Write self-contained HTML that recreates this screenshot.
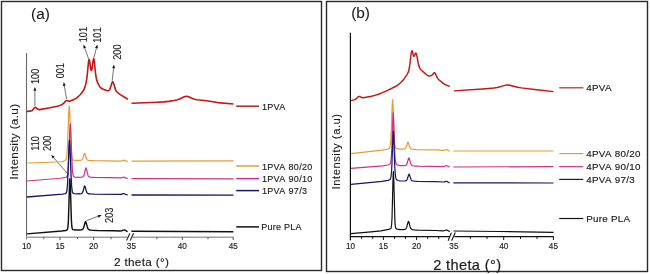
<!DOCTYPE html>
<html><head><meta charset="utf-8"><style>
html,body{margin:0;padding:0;background:#fff;}
svg{display:block;font-family:"Liberation Sans",sans-serif;will-change:transform;}
</style></head><body>
<svg width="650" height="274" viewBox="0 0 650 274">
<rect width="650" height="274" fill="#fff"/>
<rect x="1.5" y="1.5" width="320" height="269" fill="none" stroke="#2a2a2a" stroke-width="1.4"/>
<rect x="326.5" y="1.5" width="321" height="270" fill="none" stroke="#2a2a2a" stroke-width="1.4"/>
<line x1="26.5" y1="53" x2="26.5" y2="239.5" stroke="#6a6a6a" stroke-width="1.1"/>
<line x1="26" y1="237.2" x2="127.6" y2="237.2" stroke="#a0a0a0" stroke-width="1.6"/>
<line x1="131.8" y1="237.2" x2="233.6" y2="237.2" stroke="#a0a0a0" stroke-width="1.6"/>
<line x1="60" y1="237" x2="60" y2="240" stroke="#555" stroke-width="1.0"/><line x1="93.6" y1="237" x2="93.6" y2="240" stroke="#555" stroke-width="1.0"/><line x1="182.3" y1="237" x2="182.3" y2="240" stroke="#555" stroke-width="1.0"/><line x1="233.2" y1="237" x2="233.2" y2="240" stroke="#555" stroke-width="1.0"/>
<line x1="43.8" y1="237" x2="43.8" y2="239.2" stroke="#555" stroke-width="1.0"/><line x1="77.6" y1="237" x2="77.6" y2="239.2" stroke="#555" stroke-width="1.0"/><line x1="111" y1="237" x2="111" y2="239.2" stroke="#555" stroke-width="1.0"/><line x1="156.9" y1="237" x2="156.9" y2="239.2" stroke="#555" stroke-width="1.0"/><line x1="208.0" y1="237" x2="208.0" y2="239.2" stroke="#555" stroke-width="1.0"/>
<line x1="126.6" y1="240.4" x2="129.9" y2="233.2" stroke="#222" stroke-width="1.1"/>
<line x1="130.2" y1="240.4" x2="133.6" y2="233.2" stroke="#222" stroke-width="1.1"/>
<text transform="translate(26.5,249) scale(0.93,1)" font-size="8.8" text-anchor="middle" fill="#1a1a1a" stroke="#1a1a1a" stroke-width="0.15">10</text>
<text transform="translate(60,249) scale(0.93,1)" font-size="8.8" text-anchor="middle" fill="#1a1a1a" stroke="#1a1a1a" stroke-width="0.15">15</text>
<text transform="translate(93.6,249) scale(0.93,1)" font-size="8.8" text-anchor="middle" fill="#1a1a1a" stroke="#1a1a1a" stroke-width="0.15">20</text>
<text transform="translate(131.4,249) scale(0.93,1)" font-size="8.8" text-anchor="middle" fill="#1a1a1a" stroke="#1a1a1a" stroke-width="0.15">35</text>
<text transform="translate(182.3,249) scale(0.93,1)" font-size="8.8" text-anchor="middle" fill="#1a1a1a" stroke="#1a1a1a" stroke-width="0.15">40</text>
<text transform="translate(233.2,249) scale(0.93,1)" font-size="8.8" text-anchor="middle" fill="#1a1a1a" stroke="#1a1a1a" stroke-width="0.15">45</text>
<text x="141.6" y="266.0" font-size="11.8" text-anchor="middle" fill="#1a1a1a" stroke="#1a1a1a" stroke-width="0.15" letter-spacing="0.3">2 theta (°)</text>
<text transform="translate(17.7,141.6) rotate(-90) scale(1,1.0)" font-size="11.8" text-anchor="middle" fill="#1a1a1a" stroke="#1a1a1a" stroke-width="0.1" letter-spacing="0.3">Intensity (a.u)</text>
<text x="31" y="19.2" font-size="15.4" text-anchor="start" fill="#1a1a1a" stroke="#1a1a1a" stroke-width="0.08" >(a)</text>
<text transform="translate(39.0,76.4) rotate(-90) scale(1,1.14)" font-size="9.2" text-anchor="middle" fill="#1a1a1a" stroke="#1a1a1a" stroke-width="0.1" >100</text>
<line x1="34.9" y1="106.3" x2="34.90" y2="90.80" stroke="#444" stroke-width="0.75"/><path d="M34.90,87.00 L36.35,90.80 L33.45,90.80Z" fill="#111"/>
<text transform="translate(64.4,70.7) rotate(-90) scale(1,1.14)" font-size="9.2" text-anchor="middle" fill="#1a1a1a" stroke="#1a1a1a" stroke-width="0.1" >001</text>
<line x1="66.6" y1="99" x2="64.34" y2="85.75" stroke="#444" stroke-width="0.75"/><path d="M63.70,82.00 L65.77,85.50 L62.91,85.99Z" fill="#111"/>
<text transform="translate(87.1,34.6) rotate(-90) scale(1,1.14)" font-size="9.2" text-anchor="middle" fill="#1a1a1a" stroke="#1a1a1a" stroke-width="0.1" >101</text>
<line x1="88.6" y1="58.8" x2="84.78" y2="48.08" stroke="#444" stroke-width="0.75"/><path d="M83.50,44.50 L86.14,47.59 L83.41,48.57Z" fill="#111"/>
<text transform="translate(101.4,35.1) rotate(-90) scale(1,1.14)" font-size="9.2" text-anchor="middle" fill="#1a1a1a" stroke="#1a1a1a" stroke-width="0.1" >101</text>
<line x1="93.6" y1="58.8" x2="96.42" y2="48.17" stroke="#444" stroke-width="0.75"/><path d="M97.40,44.50 L97.83,48.54 L95.02,47.80Z" fill="#111"/>
<text transform="translate(121.0,52.1) rotate(-90) scale(1,1.14)" font-size="9.2" text-anchor="middle" fill="#1a1a1a" stroke="#1a1a1a" stroke-width="0.1" >200</text>
<line x1="112.2" y1="80.7" x2="113.58" y2="68.28" stroke="#444" stroke-width="0.75"/><path d="M114.00,64.50 L115.02,68.44 L112.14,68.12Z" fill="#111"/>
<text transform="translate(38.9,143.4) rotate(-90) scale(1,1.14)" font-size="9.2" text-anchor="middle" fill="#1a1a1a" stroke="#1a1a1a" stroke-width="0.1" >110</text>
<text transform="translate(51.2,143.3) rotate(-90) scale(1,1.14)" font-size="9.2" text-anchor="middle" fill="#1a1a1a" stroke="#1a1a1a" stroke-width="0.1" >200</text>
<line x1="69.2" y1="175.5" x2="53.69" y2="157.67" stroke="#444" stroke-width="0.75"/><path d="M51.20,154.80 L54.79,156.72 L52.60,158.62Z" fill="#111"/>
<text transform="translate(112.7,215.3) rotate(-90) scale(1,1.14)" font-size="9.2" text-anchor="middle" fill="#1a1a1a" stroke="#1a1a1a" stroke-width="0.1" >203</text>
<line x1="86.6" y1="220.6" x2="98.14" y2="216.32" stroke="#444" stroke-width="0.75"/><path d="M101.70,215.00 L98.64,217.68 L97.63,214.96Z" fill="#111"/>
<line x1="236.2" y1="106.2" x2="259" y2="106.2" stroke="#b02222" stroke-width="1.5"/>
<text x="261.9" y="109.7" font-size="9.0" text-anchor="start" fill="#1a1a1a" stroke="#1a1a1a" stroke-width="0.14" letter-spacing="0.3" word-spacing="0.8">1PVA</text>
<line x1="236.2" y1="166" x2="259" y2="166" stroke="#e99a35" stroke-width="1.5"/>
<text x="261.9" y="169.5" font-size="9.0" text-anchor="start" fill="#1a1a1a" stroke="#1a1a1a" stroke-width="0.14" letter-spacing="0.3" word-spacing="0.8">1PVA 80/20</text>
<line x1="236.2" y1="178.6" x2="259" y2="178.6" stroke="#d02e88" stroke-width="1.5"/>
<text x="261.9" y="182.1" font-size="9.0" text-anchor="start" fill="#1a1a1a" stroke="#1a1a1a" stroke-width="0.14" letter-spacing="0.3" word-spacing="0.8">1PVA 90/10</text>
<line x1="236.2" y1="190.6" x2="259" y2="190.6" stroke="#16166a" stroke-width="1.5"/>
<text x="261.9" y="194.1" font-size="9.0" text-anchor="start" fill="#1a1a1a" stroke="#1a1a1a" stroke-width="0.14" letter-spacing="0.3" word-spacing="0.8">1PVA 97/3</text>
<line x1="236.2" y1="226.9" x2="259" y2="226.9" stroke="#111111" stroke-width="1.5"/>
<text x="261.2" y="230.4" font-size="9.0" text-anchor="start" fill="#1a1a1a" stroke="#1a1a1a" stroke-width="0.14" letter-spacing="0.3" word-spacing="-0.3">Pure PLA</text>
<path d="M26.80,233.89 L61.80,231.09 L65.60,230.55 L66.60,230.23 L67.20,229.79 L67.60,228.92 L68.00,226.54 L68.40,220.85 L69.60,182.28 L69.80,178.98 L70.00,178.96 L70.40,188.05 L71.40,220.59 L71.80,226.21 L72.20,228.53 L72.60,229.33 L73.00,229.62 L73.80,229.83 L77.00,230.05 L80.80,229.91 L81.80,229.72 L82.40,229.46 L83.00,228.89 L83.60,227.77 L85.20,222.13 L85.60,221.58 L86.00,222.15 L87.20,226.68 L87.80,228.33 L88.60,229.46 L89.80,230.02 L92.40,230.36 L97.20,230.59 L114.00,230.68 L120.40,230.91 L121.60,230.80 L123.40,230.12 L124.20,229.99 L125.00,230.23 L126.60,231.25 L127.60,231.67 M131.40,231.20 L233.30,231.80" fill="none" stroke="#111111" stroke-width="1.45" stroke-linejoin="round" stroke-linecap="butt"/>
<path d="M27.50,162.99 L49.72,162.27 L59.73,161.76 L61.73,161.51 L63.74,161.05 L65.14,160.54 L65.74,160.07 L66.14,159.35 L66.54,157.79 L67.14,152.10 L67.74,139.83 L68.74,111.25 L69.14,106.06 L69.34,106.49 L69.74,113.10 L70.74,141.79 L71.14,150.06 L71.74,156.78 L72.14,158.67 L72.75,159.75 L73.15,160.01 L73.95,160.24 L76.55,160.46 L79.95,160.38 L81.55,160.02 L82.15,159.55 L82.76,158.55 L84.16,153.97 L84.56,153.30 L84.76,153.39 L84.96,153.75 L86.16,157.84 L86.76,159.19 L87.56,160.02 L88.56,160.35 L90.56,160.56 L93.77,160.68 L120.19,161.03 L121.39,160.92 L123.20,160.28 L123.80,160.21 L124.40,160.34 L126.20,161.14 L127.80,161.38 M131.50,161.20 L233.50,160.90" fill="none" stroke="#e99a35" stroke-width="1.2" stroke-linejoin="round" stroke-linecap="butt"/>
<path d="M26.80,180.99 L60.40,178.23 L65.40,177.43 L66.40,177.08 L67.00,176.51 L67.40,175.56 L67.80,173.52 L68.40,166.45 L69.80,129.80 L70.20,123.99 L70.40,123.99 L70.80,129.78 L71.80,157.88 L72.40,169.39 L73.00,174.59 L73.40,175.97 L73.80,176.58 L74.20,176.86 L75.00,177.11 L78.00,177.35 L81.40,177.19 L82.40,176.98 L83.00,176.68 L83.60,176.02 L84.20,174.64 L85.60,168.60 L85.80,168.06 L86.00,167.87 L86.20,168.06 L86.40,168.60 L87.40,173.17 L88.00,175.21 L88.40,176.02 L88.80,176.52 L89.40,176.91 L90.00,177.10 L91.60,177.32 L94.40,177.45 L120.20,177.95 L121.40,177.85 L123.20,177.23 L123.80,177.16 L124.40,177.30 L126.20,178.12 L127.80,178.38 M131.50,178.60 L233.50,178.90" fill="none" stroke="#d02e88" stroke-width="1.2" stroke-linejoin="round" stroke-linecap="butt"/>
<path d="M26.80,196.99 L62.60,194.11 L65.20,193.67 L65.80,193.38 L66.20,192.95 L66.60,192.01 L67.00,189.97 L67.60,182.91 L69.00,146.28 L69.40,140.48 L69.60,140.47 L70.00,146.26 L71.00,174.37 L71.60,185.88 L72.20,191.09 L72.60,192.47 L73.00,193.08 L73.40,193.37 L74.20,193.62 L77.00,193.87 L80.20,193.77 L81.20,193.58 L81.80,193.30 L82.40,192.66 L82.80,191.89 L83.40,190.04 L84.20,186.86 L84.60,185.97 L84.80,185.97 L85.20,186.87 L86.20,190.77 L86.80,192.35 L87.60,193.34 L88.60,193.74 L90.60,193.97 L94.00,194.09 L120.40,194.35 L121.40,194.26 L123.20,193.67 L123.80,193.61 L124.40,193.76 L126.20,194.60 L127.80,194.88 M131.50,195.00 L233.50,195.20" fill="none" stroke="#16166a" stroke-width="1.3" stroke-linejoin="round" stroke-linecap="butt"/>
<path d="M26.80,111.40 L30.20,111.17 L31.60,110.78 L32.60,110.08 L34.40,107.95 L35.20,107.46 L35.60,107.49 L36.00,107.68 L38.00,109.33 L38.80,109.60 L39.60,109.62 L50.00,107.83 L57.40,106.20 L60.60,105.16 L62.60,104.21 L63.80,103.22 L65.60,101.00 L66.20,100.52 L67.00,100.47 L68.80,101.20 L70.20,101.08 L74.00,99.55 L76.00,98.40 L77.60,97.28 L80.40,94.52 L82.40,92.09 L84.00,89.50 L85.00,86.87 L86.00,83.11 L86.80,78.63 L87.40,73.54 L88.40,62.90 L88.80,60.19 L89.00,59.57 L89.20,59.48 L89.60,60.80 L90.80,69.04 L91.20,70.39 L91.40,70.53 L91.60,70.32 L92.00,68.83 L93.20,60.17 L93.60,58.70 L93.80,58.70 L94.20,60.29 L95.60,73.76 L96.40,78.78 L97.00,80.91 L97.80,82.92 L99.00,85.44 L100.00,87.00 L101.40,88.30 L103.20,89.29 L106.60,90.54 L107.80,90.73 L108.60,90.61 L109.20,90.20 L109.80,89.33 L110.40,87.88 L112.00,82.71 L112.40,82.02 L112.80,81.88 L113.20,82.32 L113.60,83.27 L115.40,89.34 L116.00,90.67 L116.60,91.56 L117.60,92.52 L120.40,94.60 L127.80,99.30 M131.50,103.30 L157.10,102.25 L163.90,101.85 L168.70,101.41 L173.90,100.57 L177.50,99.74 L179.70,98.97 L184.30,96.78 L185.50,96.44 L186.50,96.34 L187.50,96.42 L188.50,96.67 L193.70,98.96 L196.70,99.74 L206.70,100.79 L217.70,102.58 L233.50,104.00" fill="none" stroke="#c51515" stroke-width="1.6" stroke-linejoin="round" stroke-linecap="butt"/>
<line x1="350.4" y1="32.7" x2="350.4" y2="240.3" stroke="#111" stroke-width="1.2"/>
<line x1="350" y1="236.6" x2="449.6" y2="236.6" stroke="#111" stroke-width="1.2"/>
<line x1="454.4" y1="236.6" x2="553.8" y2="236.6" stroke="#111" stroke-width="1.2"/>
<line x1="383.4" y1="236.6" x2="383.4" y2="240" stroke="#111" stroke-width="1.0"/><line x1="416.6" y1="236.6" x2="416.6" y2="240" stroke="#111" stroke-width="1.0"/><line x1="503.7" y1="236.6" x2="503.7" y2="240" stroke="#111" stroke-width="1.0"/><line x1="553.4" y1="236.6" x2="553.4" y2="240" stroke="#111" stroke-width="1.0"/>
<line x1="361.6" y1="236.6" x2="361.6" y2="238.9" stroke="#111" stroke-width="1.0"/><line x1="372.7" y1="236.6" x2="372.7" y2="238.9" stroke="#111" stroke-width="1.0"/><line x1="394.5" y1="236.6" x2="394.5" y2="238.9" stroke="#111" stroke-width="1.0"/><line x1="405.5" y1="236.6" x2="405.5" y2="238.9" stroke="#111" stroke-width="1.0"/><line x1="427.7" y1="236.6" x2="427.7" y2="238.9" stroke="#111" stroke-width="1.0"/><line x1="438.8" y1="236.6" x2="438.8" y2="238.9" stroke="#111" stroke-width="1.0"/><line x1="470.3" y1="236.6" x2="470.3" y2="238.9" stroke="#111" stroke-width="1.0"/><line x1="487" y1="236.6" x2="487" y2="238.9" stroke="#111" stroke-width="1.0"/><line x1="520.5" y1="236.6" x2="520.5" y2="238.9" stroke="#111" stroke-width="1.0"/><line x1="537" y1="236.6" x2="537" y2="238.9" stroke="#111" stroke-width="1.0"/>
<line x1="448.1" y1="240.8" x2="451.4" y2="232.6" stroke="#111" stroke-width="1.1"/>
<line x1="451.6" y1="240.8" x2="455.3" y2="232.6" stroke="#111" stroke-width="1.1"/>
<text transform="translate(350.5,249) scale(0.93,1)" font-size="8.8" text-anchor="middle" fill="#1a1a1a" stroke="#1a1a1a" stroke-width="0.15">10</text>
<text transform="translate(383.4,249) scale(0.93,1)" font-size="8.8" text-anchor="middle" fill="#1a1a1a" stroke="#1a1a1a" stroke-width="0.15">15</text>
<text transform="translate(416.6,249) scale(0.93,1)" font-size="8.8" text-anchor="middle" fill="#1a1a1a" stroke="#1a1a1a" stroke-width="0.15">20</text>
<text transform="translate(453.9,249) scale(0.93,1)" font-size="8.8" text-anchor="middle" fill="#1a1a1a" stroke="#1a1a1a" stroke-width="0.15">35</text>
<text transform="translate(503.7,249) scale(0.93,1)" font-size="8.8" text-anchor="middle" fill="#1a1a1a" stroke="#1a1a1a" stroke-width="0.15">40</text>
<text transform="translate(553.4,249) scale(0.93,1)" font-size="8.8" text-anchor="middle" fill="#1a1a1a" stroke="#1a1a1a" stroke-width="0.15">45</text>
<text x="467.3" y="269.5" font-size="14.6" text-anchor="middle" fill="#1a1a1a" stroke="#1a1a1a" stroke-width="0.2" letter-spacing="0.35">2 theta (°)</text>
<text transform="translate(340.2,151.4) rotate(-90) scale(1,1.0)" font-size="11.2" text-anchor="middle" fill="#1a1a1a" stroke="#1a1a1a" stroke-width="0.1" letter-spacing="0.55">Intensity (a.u)</text>
<text x="351.2" y="18.0" font-size="15.4" text-anchor="start" fill="#1a1a1a" stroke="#1a1a1a" stroke-width="0.08" >(b)</text>
<line x1="559.2" y1="87.8" x2="583.3" y2="87.8" stroke="#b02222" stroke-width="1.2"/>
<text x="586.2" y="91.1" font-size="9.8" text-anchor="start" fill="#1a1a1a" stroke="#1a1a1a" stroke-width="0.16" letter-spacing="0.3" word-spacing="0.6">4PVA</text>
<line x1="559.2" y1="153.6" x2="583.3" y2="153.6" stroke="#e99a35" stroke-width="1.2"/>
<text x="586.2" y="156.9" font-size="9.8" text-anchor="start" fill="#1a1a1a" stroke="#1a1a1a" stroke-width="0.16" letter-spacing="0.3" word-spacing="0.6">4PVA 80/20</text>
<line x1="559.2" y1="166.7" x2="583.3" y2="166.7" stroke="#d02e88" stroke-width="1.2"/>
<text x="586.2" y="170.0" font-size="9.8" text-anchor="start" fill="#1a1a1a" stroke="#1a1a1a" stroke-width="0.16" letter-spacing="0.3" word-spacing="0.6">4PVA 90/10</text>
<line x1="559.2" y1="179.4" x2="583.3" y2="179.4" stroke="#16166a" stroke-width="1.2"/>
<text x="586.2" y="182.70000000000002" font-size="9.8" text-anchor="start" fill="#1a1a1a" stroke="#1a1a1a" stroke-width="0.16" letter-spacing="0.3" word-spacing="0.6">4PVA 97/3</text>
<line x1="559.2" y1="218.5" x2="583.3" y2="218.5" stroke="#111111" stroke-width="1.2"/>
<text x="586.2" y="221.8" font-size="9.8" text-anchor="start" fill="#1a1a1a" stroke="#1a1a1a" stroke-width="0.16" letter-spacing="0.3" word-spacing="-0.2">Pure PLA</text>
<path d="M351.00,233.69 L371.02,231.87 L380.83,230.85 L388.64,229.42 L390.24,228.90 L390.84,228.42 L391.24,227.44 L391.64,224.54 L392.04,217.29 L393.04,177.95 L393.24,172.77 L393.44,171.53 L393.84,181.10 L394.84,219.40 L395.24,225.48 L395.65,227.80 L396.05,228.57 L396.45,228.88 L397.25,229.17 L399.85,229.54 L403.65,229.53 L404.65,229.40 L405.46,229.12 L406.06,228.58 L406.66,227.43 L408.06,222.12 L408.46,221.35 L408.66,221.46 L408.86,221.88 L410.06,226.65 L410.66,228.23 L411.46,229.21 L412.46,229.61 L414.26,229.86 L417.47,230.05 L435.49,230.52 L443.09,230.85 L444.09,230.75 L445.90,230.06 L446.50,229.99 L447.10,230.17 L448.70,231.10 L449.90,231.45 M453.60,231.00 L500.05,231.50 L553.50,232.30" fill="none" stroke="#111111" stroke-width="1.2" stroke-linejoin="round" stroke-linecap="butt"/>
<path d="M351.00,153.59 L382.23,150.19 L385.23,149.69 L387.24,149.23 L388.64,148.66 L389.44,148.02 L389.84,147.34 L390.24,145.92 L390.84,140.37 L391.24,132.66 L392.24,103.69 L392.44,100.34 L392.64,99.54 L393.04,105.68 L394.24,138.44 L394.84,145.15 L395.24,146.90 L395.85,147.94 L397.05,148.63 L399.25,149.05 L402.85,149.13 L404.05,149.03 L404.85,148.82 L405.46,148.41 L406.06,147.53 L406.66,145.92 L407.66,142.49 L407.86,142.15 L408.06,142.09 L408.46,142.81 L409.46,146.34 L410.06,147.83 L410.86,148.77 L411.86,149.16 L416.27,149.53 L435.29,149.89 L443.49,150.35 L444.49,150.23 L445.90,149.72 L446.50,149.65 L447.10,149.82 L448.70,150.83 L449.70,151.22 M453.40,151.00 L553.50,151.00" fill="none" stroke="#e99a35" stroke-width="1.2" stroke-linejoin="round" stroke-linecap="butt"/>
<path d="M351.00,168.39 L382.43,165.84 L387.84,165.01 L389.24,164.52 L390.04,163.90 L390.44,163.21 L390.84,161.73 L391.44,155.88 L391.84,147.73 L392.84,117.09 L393.04,113.56 L393.24,112.73 L393.64,119.29 L394.44,144.76 L395.04,157.26 L395.65,162.34 L396.05,163.61 L396.65,164.42 L398.05,165.15 L400.45,165.58 L404.05,165.66 L405.05,165.54 L405.86,165.28 L406.46,164.76 L407.06,163.65 L408.46,158.53 L408.86,157.79 L409.06,157.90 L409.26,158.31 L410.46,162.91 L411.06,164.43 L411.86,165.37 L412.86,165.76 L415.06,166.03 L419.07,166.20 L443.09,166.57 L444.29,166.42 L445.90,165.73 L446.50,165.61 L447.10,165.73 L448.70,166.61 L449.70,166.92 M453.40,167.00 L553.50,166.60" fill="none" stroke="#d02e88" stroke-width="1.2" stroke-linejoin="round" stroke-linecap="butt"/>
<path d="M351.00,184.39 L382.03,181.35 L388.04,180.33 L389.44,179.82 L390.24,179.16 L390.64,178.38 L391.04,176.68 L391.64,170.15 L392.04,161.52 L392.84,137.54 L393.24,131.07 L393.44,131.67 L393.64,134.86 L394.64,163.81 L395.04,171.66 L395.65,177.36 L396.05,178.82 L396.65,179.73 L397.25,180.14 L398.05,180.48 L400.25,180.89 L404.05,181.00 L405.25,180.89 L406.06,180.65 L406.66,180.20 L407.26,179.24 L408.66,174.79 L409.06,174.15 L409.26,174.24 L409.46,174.59 L410.46,177.98 L411.06,179.54 L411.86,180.58 L412.86,181.00 L414.46,181.21 L417.27,181.35 L435.69,181.63 L443.29,182.02 L444.29,181.94 L445.90,181.36 L446.50,181.28 L447.10,181.45 L448.70,182.45 L449.70,182.82 M453.40,182.80 L553.50,183.00" fill="none" stroke="#16166a" stroke-width="1.2" stroke-linejoin="round" stroke-linecap="butt"/>
<path d="M351.00,100.60 L354.00,99.90 L355.40,99.41 L356.41,98.72 L358.21,96.84 L359.01,96.38 L359.81,96.49 L361.81,97.65 L362.61,97.81 L363.41,97.78 L371.62,96.29 L374.82,95.42 L378.43,94.25 L382.63,92.68 L387.64,90.42 L395.44,86.52 L397.45,85.28 L399.25,83.94 L401.85,81.50 L404.05,78.93 L406.86,74.79 L408.26,72.19 L408.86,70.29 L409.46,67.26 L411.06,54.25 L411.46,51.87 L411.86,50.79 L412.06,50.77 L412.26,51.08 L413.46,55.60 L413.86,56.31 L414.06,56.33 L414.26,56.14 L415.26,53.65 L415.67,53.03 L415.87,52.99 L416.07,53.17 L416.27,53.56 L416.87,55.87 L418.07,62.46 L418.87,65.87 L419.87,68.43 L420.47,69.36 L421.07,70.03 L425.88,74.16 L427.68,75.48 L428.88,76.15 L429.48,76.14 L431.68,75.53 L432.48,74.80 L433.88,72.96 L434.28,72.73 L434.68,72.81 L435.09,73.21 L435.49,73.89 L437.29,77.77 L438.09,78.91 L438.89,79.73 L442.69,82.84 L444.89,84.40 L446.50,85.20 L449.90,86.40 M453.90,90.90 L485.90,88.73 L493.90,88.04 L497.30,87.54 L505.10,85.38 L506.70,85.08 L507.90,85.00 L509.70,85.23 L517.50,87.19 L521.30,87.87 L536.70,89.83 L553.50,91.60" fill="none" stroke="#c51515" stroke-width="1.45" stroke-linejoin="round" stroke-linecap="butt"/>
</svg>
</body></html>
